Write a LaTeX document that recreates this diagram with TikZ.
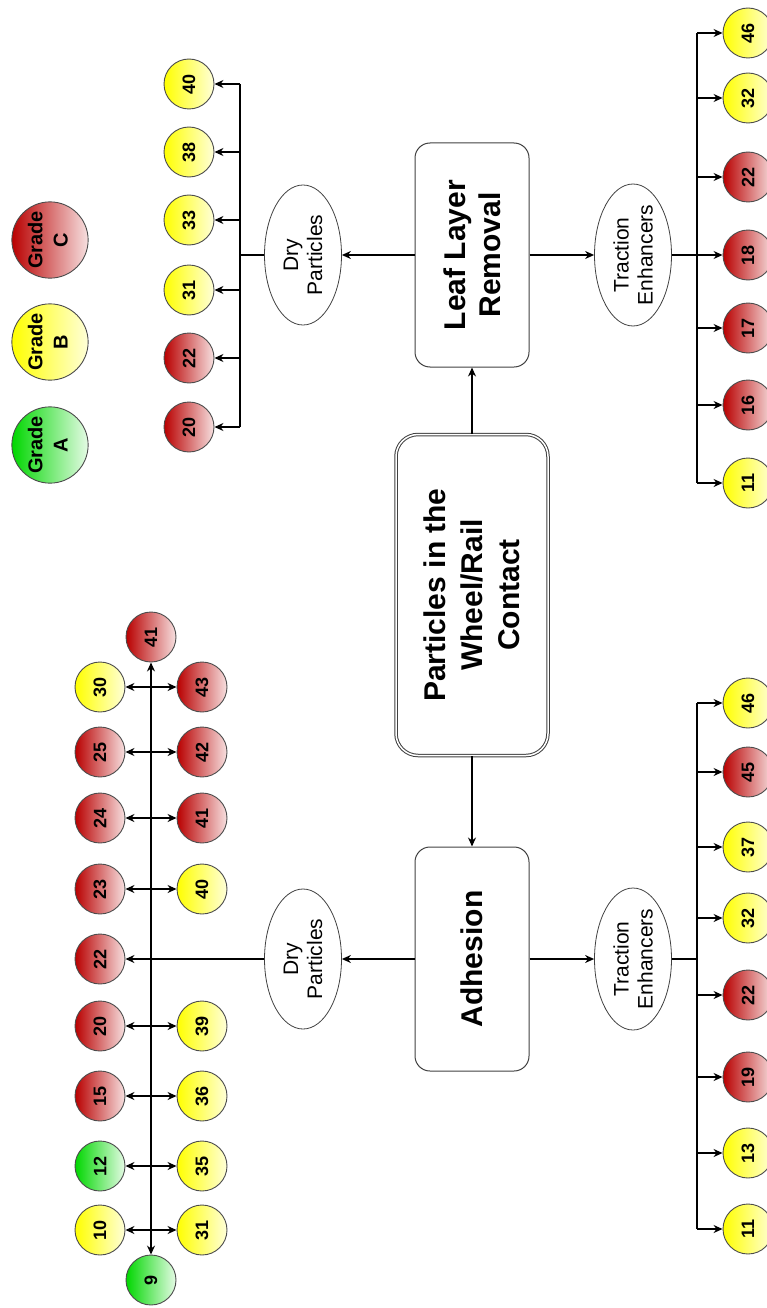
\documentclass[tikz,border=0pt]{standalone}
\usepackage{fontspec}
\setmainfont{Liberation Sans}
\usetikzlibrary{shapes.geometric,arrows.meta}

\definecolor{gradeAcol}{RGB}{0,215,0}
\definecolor{gradeBcol}{RGB}{255,255,0}
\definecolor{gradeCcol}{RGB}{185,0,0}

\newcommand{\up}[1]{\rotatebox{90}{#1}}

\tikzset{
  ball/.style={circle, draw=black!70, line width=0.9pt, minimum size=50, inner sep=0pt,
    font=\fontsize{18}{20}\selectfont\bfseries},
  ballA/.style={left color=gradeAcol, right color=gradeAcol!10},
  ballB/.style={left color=gradeBcol, right color=gradeBcol!15},
  ballC/.style={left color=gradeCcol, right color=gradeCcol!12},
  grade/.style={ball, minimum size=76, font=\fontsize{20}{25}\selectfont\bfseries},
  stage/.style={rectangle, rounded corners=15, draw=black!75, line width=1pt, rotate=90,
    minimum width=224, minimum height=114, align=center,
    font=\fontsize{30}{35}\selectfont\bfseries},
  hub/.style={stage, double, double distance=1.5pt, rounded corners=22,
    minimum width=321, minimum height=152, font=\fontsize{30}{37}\selectfont\bfseries},
  kind/.style={ellipse, draw=black!75, line width=0.8pt, rotate=90, inner sep=0pt,
    minimum width=140, minimum height=77, align=center,
    font=\fontsize{21}{24}\selectfont},
  wire/.style={line width=1.2pt},
  arr/.style={wire, -{Stealth[length=9pt,width=8pt]}},
  arrs/.style={wire, {Stealth[length=9pt,width=8pt]}-{Stealth[length=9pt,width=8pt]}}
}

\begin{document}
\begin{tikzpicture}[x=1pt,y=-1pt]
  \useasboundingbox (0,0) rectangle (767,1308);

  % main boxes
  \node[hub] (main) at (472,595) {Particles in the\\Wheel/Rail\\Contact};
  \node[stage] (leaf) at (472,255) {Leaf Layer\\Removal};
  \node[stage] (adh) at (472,959) {Adhesion};
  \draw[arr] (main) -- (leaf);
  \draw[arr] (main) -- (adh);

  \node[kind] (dryL) at (303,255) {Dry\\Particles};
  \node[kind] (dryA) at (303,959) {Dry\\Particles};
  \node[kind] (tracL) at (633,255) {Traction\\Enhancers};
  \node[kind] (tracA) at (633,959) {Traction\\Enhancers};
  \draw[arr] (leaf) -- (dryL);
  \draw[arr] (leaf) -- (tracL);
  \draw[arr] (adh) -- (dryA);
  \draw[arr] (adh) -- (tracA);

  % legend
  \foreach \g/\y in {A/445, B/342, C/240}
    \node[grade, ball\g] (grade\g) at (50,\y) {\up{\begin{tabular}{@{}c@{}}Grade\\\g\end{tabular}}};

  % leaf layer removal, dry particles
  \coordinate (jdL) at (240,255);
  \foreach \n/\y/\g [count=\i] in {40/84/B, 38/152/B, 33/220/B, 31/290/B, 22/358/C, 20/427/C} {
    \node[ball, ball\g] (dl\i) at (189,\y) {\up{\n}};
    \draw[arr] (dl\i -| jdL) -- (dl\i);
  }
  \draw[wire] (dl1 -| jdL) -- (dl6 -| jdL);
  \draw[wire] (dryL) -- (jdL);

  % leaf layer removal, traction enhancers
  \coordinate (jtL) at (697,255);
  \foreach \n/\y/\g [count=\i] in {46/33/B, 32/98/B, 22/177/C, 18/255/C, 17/328/C, 16/405/C, 11/483/B} {
    \node[ball, ball\g] (tl\i) at (748,\y) {\up{\n}};
    \draw[arr] (tl\i -| jtL) -- (tl\i);
  }
  \draw[wire] (tl1 -| jtL) -- (tl7 -| jtL);
  \draw[wire] (tracL) -- (jtL);

  % adhesion, traction enhancers
  \coordinate (jtA) at (697,959);
  \foreach \n/\y/\g [count=\i] in {46/703/B, 45/772/C, 37/847/B, 32/918/B, 22/995/C, 19/1077/C, 13/1153/B, 11/1229/B} {
    \node[ball, ball\g] (ta\i) at (748,\y) {\up{\n}};
    \draw[arr] (ta\i -| jtA) -- (ta\i);
  }
  \draw[wire] (ta1 -| jtA) -- (ta8 -| jtA);
  \draw[wire] (tracA) -- (jtA);

  % adhesion, dry particles
  \node[ball, ballC] (axTop) at (151,637) {\up{41}};
  \node[ball, ballA] (axBot) at (151,1280) {\up{9}};
  \draw[arrs] (axTop) -- (axBot);
  \foreach \a/\ga/\b/\gb/\y [count=\i] in {30/B/43/C/687, 25/C/42/C/752, 24/C/41/C/818, 23/C/40/B/889,
      20/C/39/B/1026, 15/C/36/B/1096, 12/A/35/B/1166, 10/B/31/B/1230} {
    \node[ball, ball\ga] (pl\i) at (100,\y) {\up{\a}};
    \node[ball, ball\gb] (pr\i) at (202,\y) {\up{\b}};
    \draw[arrs] (pl\i) -- (pr\i);
  }
  \node[ball, ballC] (p22) at (100,959) {\up{22}};
  \draw[arr] (dryA) -- (p22);
\end{tikzpicture}
\end{document}
